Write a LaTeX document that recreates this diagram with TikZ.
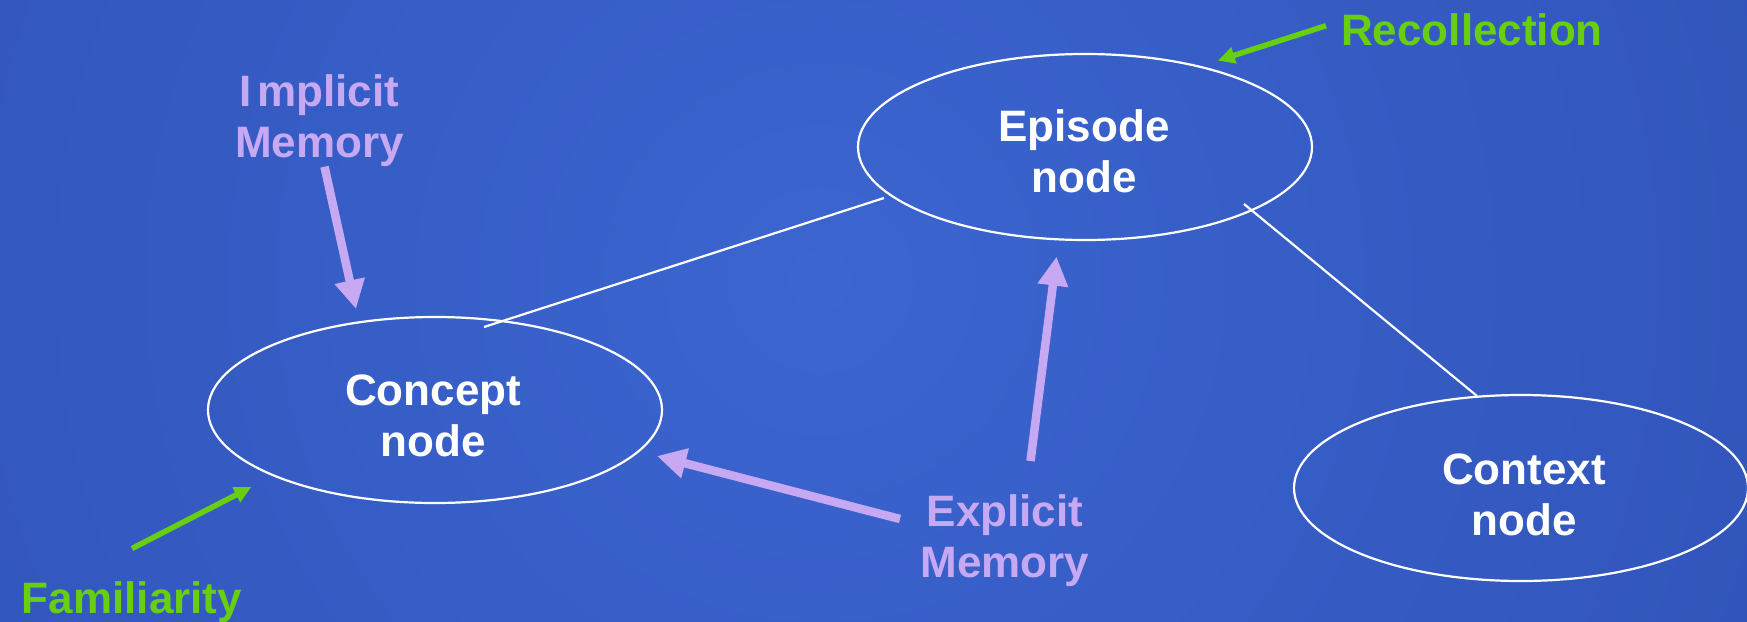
\documentclass[tikz,border=0pt]{standalone}
\usepackage{fontspec}
\setmainfont{Liberation Sans}
\usetikzlibrary{shapes.geometric,arrows.meta,calc}

\definecolor{bginner}{RGB}{60,101,208}
\definecolor{bgouter}{RGB}{40,72,170}
\definecolor{lavender}{RGB}{198,169,242}
\definecolor{limegreen}{RGB}{104,206,16}

\tikzset{
  oval/.style={ellipse, draw=white, line width=2.2pt, inner sep=0pt,
    minimum width=454pt, minimum height=186pt},
  bigtext/.style={font=\bfseries\fontsize{44}{51}\selectfont, align=center, inner sep=0pt},
  nodetext/.style={bigtext, text=white},
  lavtext/.style={bigtext, text=lavender},
  limetext/.style={bigtext, text=limegreen},
  link/.style={draw=white, line width=2.2pt},
  lavarrow/.style={draw=lavender, line width=8.5pt,
    -{Triangle[width=29pt,length=29pt]}},
  limearrow/.style={draw=limegreen, line width=5.5pt,
    -{Triangle[width=16pt,length=17pt]}}
}

\begin{document}
\begin{tikzpicture}[x=1pt,y=-1pt]
  \useasboundingbox (0,0) rectangle (1747,621);

  % backdrop: blue with a lighter centre
  \fill[bgouter] (0,0) rectangle (1747,621);
  \begin{scope}
    \clip (0,0) rectangle (1747,621);
    \shade[inner color=bginner, outer color=bgouter] (820,280) circle (1800pt);
  \end{scope}

  % the three memory nodes
  \node[oval] (concept) at (435,410) {};
  \node[oval] (episode) at (1085,147) {};
  \node[oval] (context) at (1521,488) {};

  \node[nodetext] (concepttxt) at ($(concept)+(-2,6)$) {Concept\\node};
  \node[nodetext] (episodetxt) at ($(episode)+(-1,4.5)$) {Episode\\node};
  \node[nodetext] (contexttxt) at ($(context)+(3,7)$) {Context\\node};

  % links between the nodes
  \draw[link] ($(concept)+(49,-83)$) -- ($(episode)+(-201,51)$);
  \draw[link] ($(episode)+(159,57)$) -- ($(context)+(-44,-92)$);

  % labels
  \node[lavtext] (implicit) at (319.5,120.5) {I\kern5pt mplicit\\Memory};
  \node[lavtext] (explicit) at (1005,541) {Explicit\\Memory};
  \node[limetext, anchor=base] (familiarity) at (132,613) {Familiarity};
  \node[limetext, anchor=base] (recollection) at (1472,45) {Recollection};

  % memory arrows
  \draw[lavarrow] ($(implicit.south)+(5,0)$) -- ($(concept)+(-79,-101)$);
  \draw[lavarrow] ($(explicit)+(-105,-22)$) -- ($(concept)+(222,46)$);
  \draw[lavarrow] ($(explicit)+(25.5,-80)$) -- ($(episode)+(-28.5,109.6)$);

  % retrieval arrows
  \draw[limearrow] ($(familiarity.base)+(0,-64.5)$) -- ($(concept)+(-183.6,77)$);
  \draw[limearrow] ($(recollection.base)+(-146,-19.3)$) -- ($(episode)+(132.8,-86.4)$);
\end{tikzpicture}
\end{document}
